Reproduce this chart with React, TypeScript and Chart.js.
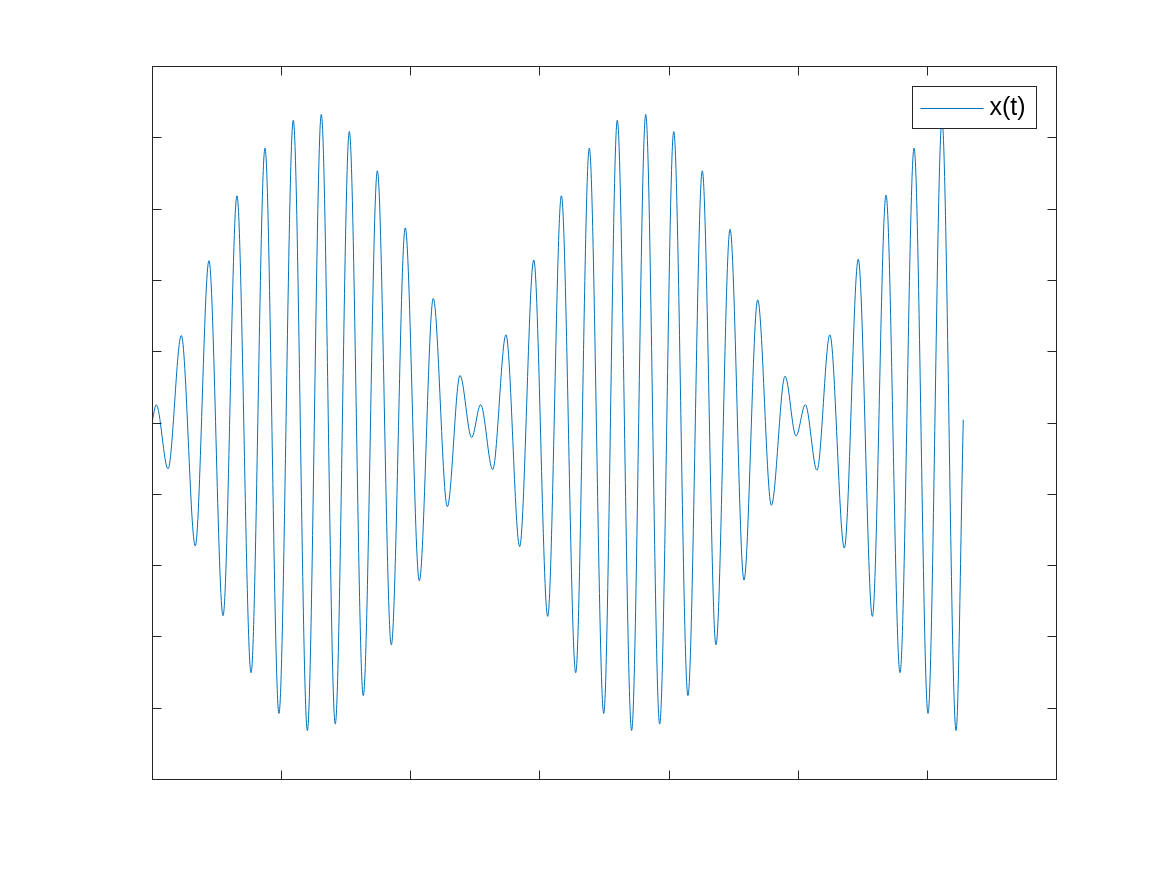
import { useEffect, useRef } from "react";
import { Chart, registerables } from "chart.js";

Chart.register(...registerables);

// Extrema of x(t) (t, value)
const tValues = [
  0.0, 0.033, 0.124, 0.227, 0.335, 0.441, 0.55, 0.658, 0.767, 0.875, 0.983,
  1.094, 1.203, 1.311, 1.419, 1.528, 1.636, 1.745, 1.853, 1.961, 2.07,
  2.178, 2.287, 2.385, 2.475, 2.545, 2.638, 2.741, 2.847, 2.956, 3.064,
  3.17, 3.281, 3.386, 3.498, 3.603, 3.714, 3.823, 3.931, 4.04, 4.15,
  4.261, 4.367, 4.476, 4.584, 4.69, 4.796, 4.902, 4.987, 5.059, 5.149,
  5.249, 5.361, 5.469, 5.578, 5.684, 5.792, 5.901, 6.009, 6.117, 6.226, 6.282,
];
const xValues = [
  0.0, 0.25, -0.65, 1.22, -1.73, 2.27, -2.71, 3.18, -3.51, 3.85, -4.08,
  4.24, -4.32, 4.32, -4.23, 4.08, -3.83, 3.53, -3.12, 2.73, -2.22,
  1.74, -1.18, 0.66, -0.21, 0.25, -0.66, 1.23, -1.74, 2.28, -2.72,
  3.18, -3.51, 3.85, -4.08, 4.24, -4.32, 4.32, -4.23, 4.08, -3.83,
  3.53, -3.12, 2.71, -2.21, 1.72, -1.16, 0.65, -0.19, 0.25, -0.67,
  1.23, -1.76, 2.29, -2.72, 3.19, -3.51, 3.85, -4.08, 4.24, -4.32, 0.04,
];
const xTicks = [0, 1, 2, 3, 4, 5, 6, 7];
const yTicks = [-5, -4, -3, -2, -1, 0, 1, 2, 3, 4, 5];
const seriesLabel = "x(t)";

const LINE_COLOR = "#0072BD";
const AXIS_COLOR = "#262626";

export default function App() {
  const ref = useRef<HTMLCanvasElement>(null);

  useEffect(() => {
    if (!ref.current) return;
    const axesPlugin = {
      id: "matlabAxes",
      afterDraw(chart: any) {
        const { ctx, chartArea: a, scales } = chart;
        ctx.save();
        ctx.strokeStyle = AXIS_COLOR;
        ctx.lineWidth = 1;
        const L = 9;
        ctx.beginPath();
        xTicks.forEach((v) => {
          const px = Math.round(scales.x.getPixelForValue(v)) + 0.5;
          ctx.moveTo(px, a.bottom + 0.5);
          ctx.lineTo(px, a.bottom + 0.5 - L);
          ctx.moveTo(px, a.top + 0.5);
          ctx.lineTo(px, a.top + 0.5 + L);
        });
        yTicks.forEach((v) => {
          const py = Math.round(scales.y.getPixelForValue(v)) + 0.5;
          ctx.moveTo(a.left + 0.5, py);
          ctx.lineTo(a.left + 0.5 + L, py);
          ctx.moveTo(a.right + 0.5, py);
          ctx.lineTo(a.right + 0.5 - L, py);
        });
        ctx.stroke();
        ctx.strokeRect(a.left + 0.5, a.top + 0.5, a.right - a.left, a.bottom - a.top);

        // legend box
        const bw = 124;
        const bh = 42;
        const bx = a.right - 20 - bw + 0.5;
        const by = a.top + 20 + 0.5;
        ctx.fillStyle = "#ffffff";
        ctx.fillRect(bx, by, bw, bh);
        ctx.strokeStyle = AXIS_COLOR;
        ctx.strokeRect(bx, by, bw, bh);
        const my = by + bh / 2;
        ctx.strokeStyle = LINE_COLOR;
        ctx.beginPath();
        ctx.moveTo(bx + 8, Math.round(my) + 0.5);
        ctx.lineTo(bx + 71, Math.round(my) + 0.5);
        ctx.stroke();
        ctx.fillStyle = "#000000";
        ctx.font = '25px "Liberation Sans", Arial, sans-serif';
        ctx.textBaseline = "middle";
        ctx.textAlign = "left";
        ctx.fillText(seriesLabel, bx + 77, my + 1);
        ctx.restore();
      },
    };

    const chart = new Chart(ref.current, {
      type: "line",
      data: {
        datasets: [
          {
            label: seriesLabel,
            data: tValues.map((t, i) => ({ x: t, y: xValues[i] })),
            borderColor: LINE_COLOR,
            borderWidth: 1,
            pointRadius: 0,
            fill: false,
            cubicInterpolationMode: "monotone",
          },
        ],
      },
      options: {
        animation: false,
        responsive: false,
        maintainAspectRatio: false,
        events: [],
        layout: { padding: { left: 152, top: 66, right: 111, bottom: 96 } },
        plugins: { legend: { display: false }, tooltip: { enabled: false } },
        scales: {
          x: { type: "linear", min: xTicks[0], max: xTicks[xTicks.length - 1], display: false },
          y: { type: "linear", min: yTicks[0], max: yTicks[yTicks.length - 1], display: false },
        },
      },
      plugins: [axesPlugin],
    } as any);
    return () => chart.destroy();
  }, []);

  return (
    <div style={{ position: "absolute", left: 0, top: 0, width: 1167, height: 875, background: "#fff" }}>
      <canvas ref={ref} width={1167} height={875} style={{ display: "block" }} />
    </div>
  );
}
